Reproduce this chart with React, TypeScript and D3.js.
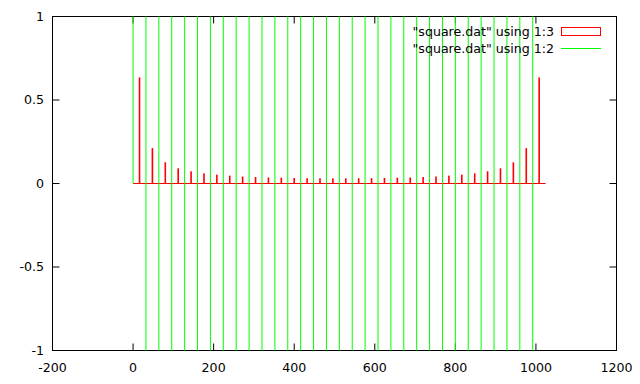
import React from "react";
import * as d3 from "d3";

// Column 1 / column 2 of square.dat (impulses)
const squareX = [
  0, 32, 32, 64, 64, 96, 96, 128, 128, 160, 160, 192, 192, 224, 224, 256, 256,
  288, 288, 320, 320, 352, 352, 384, 384, 416, 416, 448, 448, 480, 480, 512, 512,
  544, 544, 576, 576, 608, 608, 640, 640, 672, 672, 704, 704, 736, 736, 768, 768,
  800, 800, 832, 832, 864, 864, 896, 896, 928, 928, 960, 960, 992, 992,
];
const squareY = [
  1, -1, 1, -1, 1, -1, 1, -1, 1, -1, 1, -1, 1, -1, 1, -1, 1,
  -1, 1, -1, 1, -1, 1, -1, 1, -1, 1, -1, 1, -1, 1, -1, 1,
  -1, 1, -1, 1, -1, 1, -1, 1, -1, 1, -1, 1, -1, 1, -1, 1,
  -1, 1, -1, 1, -1, 1, -1, 1, -1, 1, -1, 1, -1, 1,
];

// Column 1 / column 3 of square.dat (boxes)
const boxX = [
  16, 48, 80, 112, 144, 176, 208, 240, 272, 304, 336, 368, 400, 432, 464, 496,
  528, 560, 592, 624, 656, 688, 720, 752, 784, 816, 848, 880, 912, 944, 976, 1008,
];
const boxY = [
  0.635, 0.212, 0.127, 0.091, 0.073, 0.061, 0.053, 0.047, 0.042, 0.039, 0.036, 0.035, 0.033, 0.032, 0.032, 0.031,
  0.031, 0.032, 0.032, 0.033, 0.035, 0.036, 0.039, 0.042, 0.047, 0.053, 0.061, 0.073, 0.091, 0.127, 0.212, 0.635,
];
const boxSpacing = 32;
const boxWidth = 4;

const xTicks = [-200, 0, 200, 400, 600, 800, 1000, 1200];
const yTicks = [-1, -0.5, 0, 0.5, 1];
const legendLabels = ['"square.dat" using 1:3', '"square.dat" using 1:2'];

const W = 640;
const H = 384;
const L = 52.5;
const R = 616.5;
const T = 16.5;
const B = 350.5;
const TICK = 7;
const FONT = "'DejaVu Sans', sans-serif";
const FS = 12.6;
const RED = "#ff0000";
const GREEN = "#00ff00";

export default function App() {
  const x = d3.scaleLinear().domain([-200, 1200]).range([L, R]);
  const y = d3.scaleLinear().domain([-1, 1]).range([B, T]);
  const fmt = (v: number) => String(v);

  const baseStart = boxX[0] - boxSpacing / 2;
  const baseEnd = boxX[boxX.length - 1] + boxSpacing / 2;

  return (
    <svg
      width={W}
      height={H}
      style={{ position: "absolute", left: 0, top: 0, background: "#fff" }}
    >
      <rect x={0} y={0} width={W} height={H} fill="#fff" />
      {/* ticks */}
      {xTicks.map((t) => (
        <g key={"xt" + t}>
          <line x1={x(t)} x2={x(t)} y1={B} y2={B - TICK} stroke="#000" />
          <line x1={x(t)} x2={x(t)} y1={T} y2={T + TICK} stroke="#000" />
          <text
            x={x(t)}
            y={371.5}
            textAnchor="middle"
            fontFamily={FONT}
            fontSize={FS}
            fill="#000"
          >
            {fmt(t)}
          </text>
        </g>
      ))}
      {yTicks.map((t) => (
        <g key={"yt" + t}>
          <line x1={L} x2={L + TICK} y1={y(t)} y2={y(t)} stroke="#000" />
          <line x1={R} x2={R - TICK} y1={y(t)} y2={y(t)} stroke="#000" />
          <text
            x={44}
            y={y(t) + 4.4}
            textAnchor="end"
            fontFamily={FONT}
            fontSize={FS}
            fill="#000"
          >
            {fmt(t)}
          </text>
        </g>
      ))}
      {/* border */}
      <rect x={L} y={T} width={R - L} height={B - T} fill="none" stroke="#000" />

      {/* boxes 1:3 */}
      <line x1={x(baseStart)} x2={x(baseEnd)} y1={y(0)} y2={y(0)} stroke={RED} />
      {boxX.map((bx, i) => (
        <rect
          key={"b" + i}
          x={x(bx - boxWidth / 2)}
          width={x(boxWidth) - x(0)}
          y={y(boxY[i])}
          height={y(0) - y(boxY[i])}
          fill={RED}
        />
      ))}

      {/* impulses 1:2 */}
      {squareX.map((sx, i) => (
        <line
          key={"s" + i}
          x1={x(sx)}
          x2={x(sx)}
          y1={y(0)}
          y2={y(squareY[i])}
          stroke={GREEN}
        />
      ))}

      {/* legend */}
      <text
        x={554}
        y={36.2}
        textAnchor="end"
        fontFamily={FONT}
        fontSize={FS}
        fill="#000"
      >
        {legendLabels[0]}
      </text>
      <rect x={561.5} y={27.5} width={39} height={8} fill="none" stroke={RED} />
      <text
        x={554}
        y={53.2}
        textAnchor="end"
        fontFamily={FONT}
        fontSize={FS}
        fill="#000"
      >
        {legendLabels[1]}
      </text>
      <line x1={561} x2={601} y1={48.5} y2={48.5} stroke={GREEN} />
    </svg>
  );
}
